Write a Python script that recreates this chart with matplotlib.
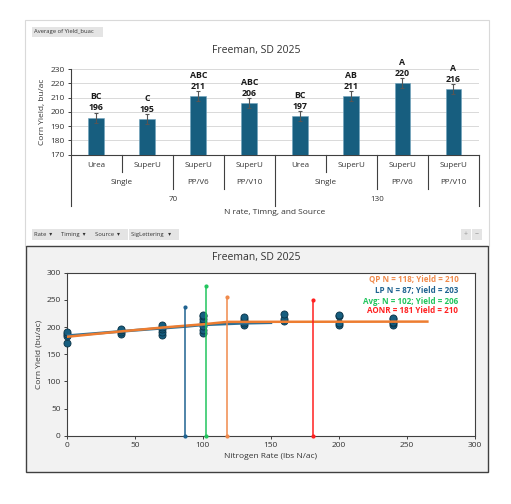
import matplotlib.pyplot as plt
from matplotlib.patches import Rectangle
import matplotlib.transforms as mtransforms

plt.rcParams['font.family'] = ['Open Sans', 'DejaVu Sans']

# top chart data
rates = ['70', '70', '70', '70', '130', '130', '130', '130']
timings = ['Single', 'Single', 'PP/V6', 'PP/V10', 'Single', 'Single', 'PP/V6', 'PP/V10']
sources = ['Urea', 'SuperU', 'SuperU', 'SuperU', 'Urea', 'SuperU', 'SuperU', 'SuperU']
yields = [196, 195, 211, 206, 197, 211, 220, 216]
yield_err = [3.5, 3.5, 3.5, 3.5, 3.5, 3.5, 3.5, 3.5]
letters = ['BC', 'C', 'ABC', 'ABC', 'BC', 'AB', 'A', 'A']

# bottom chart data
n_rate = [0, 0, 0, 0,
          40, 40, 40, 40,
          70, 70, 70, 70, 70,
          100, 100, 100, 100, 100, 100, 100,
          130, 130, 130, 130, 130,
          160, 160, 160,
          200, 200, 200, 200,
          240, 240, 240, 240, 240]
plot_yield = [170, 184, 187, 191,
              188, 191, 194, 197,
              186, 190, 196, 200, 203,
              189, 195, 202, 209, 215, 220, 223,
              203, 207, 211, 215, 219,
              211, 215, 224,
              203, 208, 220, 222,
              204, 207, 210, 214, 217]
lp_x = [0, 50, 87, 100, 130, 150]
lp_y = [184, 194, 201, 204, 207, 208]
qp_x = [0, 40, 70, 100, 118, 265]
qp_y = [182, 192, 199, 205, 209.5, 210]
opt_names = ['QP N = 118; Yield = 210', 'LP N = 87; Yield = 203',
             'Avg: N = 102; Yield = 206', 'AONR = 181 Yield = 210']
opt_n = [118, 87, 102, 181]
opt_top = [256, 236, 275, 250]
opt_colors = ['#f08a4b', '#1f6391', '#22c55e', '#ff2020']

W, H = 511, 504
TXT = '#333333'
fig = plt.figure(figsize=(W / 100, H / 100), dpi=100)


def fx(px):
    return px / W


def fy(py):
    return 1 - py / H


# panel backgrounds
fig.patches.append(Rectangle((fx(25), fy(246)), fx(464), 226 / H, transform=fig.transFigure,
                             facecolor='white', edgecolor='#d9d9d9', lw=0.8, zorder=-2))
fig.patches.append(Rectangle((fx(25.7), fy(471.7)), fx(462.3), 225.7 / H, transform=fig.transFigure,
                             facecolor='#f2f2f2', edgecolor='#404040', lw=1.0, zorder=-2))


def button(x0, x1, y0, y1, text):
    fig.patches.append(Rectangle((fx(x0), fy(y1)), fx(x1 - x0), (y1 - y0) / H,
                                 transform=fig.transFigure, facecolor='#e4e4e4',
                                 edgecolor='none', zorder=-1))
    if text:
        fig.text(fx(x0 + 2), fy((y0 + y1) / 2), text, fontsize=4.2, ha='left',
                 va='center', color='#333333')


button(32, 103, 27.5, 36.5, 'Average of Yield_buac')
button(31.7, 58.5, 229, 240, 'Rate  \u25be')
button(59.3, 92.7, 229, 240, 'Timing  \u25be')
button(93.3, 128, 229, 240, 'Source  \u25be')
button(128.7, 179, 229, 240, 'SigLettering   \u25be')
button(461, 471, 229, 240, '')
button(471.7, 481.7, 229, 240, '')
fig.text(fx(466), fy(234.5), '+', fontsize=5, ha='center', va='center', color='#999999')
fig.text(fx(476.7), fy(234.5), '\u2212', fontsize=5, ha='center', va='center', color='#999999')

# ---- top bar chart ----
ax1 = fig.add_axes([fx(70.7), fy(154.7), fx(408.3), 85.7 / H])
ax1.patch.set_alpha(0)
x = list(range(len(yields)))
ax1.bar(x, [y - 170 for y in yields], bottom=170, width=0.31, color='#175e7f',
        edgecolor='#6fa3bd', lw=0.4, zorder=3)
ax1.errorbar(x, yields, yerr=yield_err, fmt='none', ecolor='#555555', elinewidth=0.8,
             capsize=1.5, capthick=0.8, zorder=4)
for i, (v, lt) in enumerate(zip(yields, letters)):
    ax1.annotate(str(v), (i, v), xytext=(0, 7), textcoords='offset points', ha='center',
                 va='center', fontsize=6.3, fontweight='bold', color='#1a1a1a')
    ax1.annotate(lt, (i, v), xytext=(0, 15), textcoords='offset points', ha='center',
                 va='center', fontsize=6.3, fontweight='bold', color='#1a1a1a')
ax1.set_xlim(-0.5, 7.5)
ax1.set_ylim(170, 230)
ax1.set_yticks(range(170, 231, 10))
ax1.tick_params(axis='y', labelsize=6, length=2.5, width=0.7, color='#404040', pad=2,
                labelcolor=TXT)
ax1.set_xticks([])
ax1.grid(axis='y', color='#d9d9d9', lw=0.7, zorder=0)
for s in ['top', 'right']:
    ax1.spines[s].set_visible(False)
ax1.spines['left'].set_color('#404040')
ax1.spines['bottom'].set_color('#404040')
ax1.spines['left'].set_linewidth(0.8)
ax1.spines['bottom'].set_linewidth(0.8)
ax1.set_ylabel('Corn Yield, bu/ac', fontsize=6, color=TXT, labelpad=3)

tr = mtransforms.blended_transform_factory(ax1.transData, ax1.transAxes)
r1, r2, r3 = -0.202, -0.397, -0.595
seps = {}
for i in range(1, len(yields)):
    if rates[i] != rates[i - 1]:
        seps[i - 0.5] = r3
    elif timings[i] != timings[i - 1]:
        seps[i - 0.5] = r2
    else:
        seps[i - 0.5] = r1
seps[-0.5] = r3
seps[len(yields) - 0.5] = r3
for xs, yb in seps.items():
    ax1.plot([xs, xs], [0, yb], transform=tr, color='#404040', lw=0.8, clip_on=False)
for i, s in enumerate(sources):
    ax1.text(i, -0.128, s, transform=tr, ha='center', va='center', fontsize=5.8,
             color=TXT)


# group labels for timing and rate
def groups(keys):
    out = []
    start = 0
    for i in range(1, len(keys) + 1):
        if i == len(keys) or keys[i] != keys[start]:
            out.append((keys[start], (start + i - 1) / 2))
            start = i
    return out


tkeys = [r + '|' + t for r, t in zip(rates, timings)]
for key, cx in groups(tkeys):
    ax1.text(cx, -0.330, key.split('|')[1], transform=tr, ha='center', va='center',
             fontsize=5.8, color=TXT)
for key, cx in groups(rates):
    ax1.text(cx, -0.528, key, transform=tr, ha='center', va='center', fontsize=5.8,
             color=TXT)
ax1.text(3.5, -0.677, 'N rate, Timng, and Source', transform=tr, ha='center', va='center',
         fontsize=6, color=TXT)
fig.text(fx(256), fy(51), 'Freeman, SD 2025', fontsize=7.5, ha='center', va='center',
         color=TXT)

# ---- bottom scatter chart ----
ax2 = fig.add_axes([fx(66.7), fy(435.7), fx(408.3), 163 / H])
ax2.set_facecolor('white')
ax2.scatter(n_rate, plot_yield, s=26, color='#175e7f', edgecolors='#0b3347', lw=0.6, zorder=3,
            clip_on=False)
ax2.plot(lp_x, lp_y, color='#2d6f95', lw=2.0, zorder=4)
ax2.plot(qp_x, qp_y, color='#ed7d31', lw=1.8, zorder=5)
for n, top, c in zip(opt_n, opt_top, opt_colors):
    ax2.plot([n, n], [0, top], color=c, lw=1.1, marker='o', ms=2, zorder=6, clip_on=False)
for k, (name, c) in enumerate(zip(opt_names, opt_colors)):
    ypx = [278.7, 290, 301.7, 310.3][k]
    fig.text(fx(458.3), fy(ypx), name, fontsize=5.8, fontweight='bold', color=c,
             ha='right', va='center')
ax2.set_xlim(0, 300)
ax2.set_ylim(0, 300)
ax2.set_xticks(range(0, 301, 50))
ax2.set_yticks(range(0, 301, 50))
ax2.tick_params(labelsize=6, length=2.5, width=0.7, color='#404040', labelcolor=TXT,
                pad=2)
for s in ax2.spines.values():
    s.set_color('#404040')
    s.set_linewidth(0.8)
ax2.set_xlabel('Nitrogen Rate (lbs N/ac)', fontsize=6, color=TXT, labelpad=3)
ax2.set_ylabel('Corn Yield (bu/ac)', fontsize=6, color=TXT, labelpad=3)
fig.text(fx(256.7), fy(257.7), 'Freeman, SD 2025', fontsize=7.5, ha='center', va='center',
         color=TXT)

fig.savefig('out.png', dpi=100)
